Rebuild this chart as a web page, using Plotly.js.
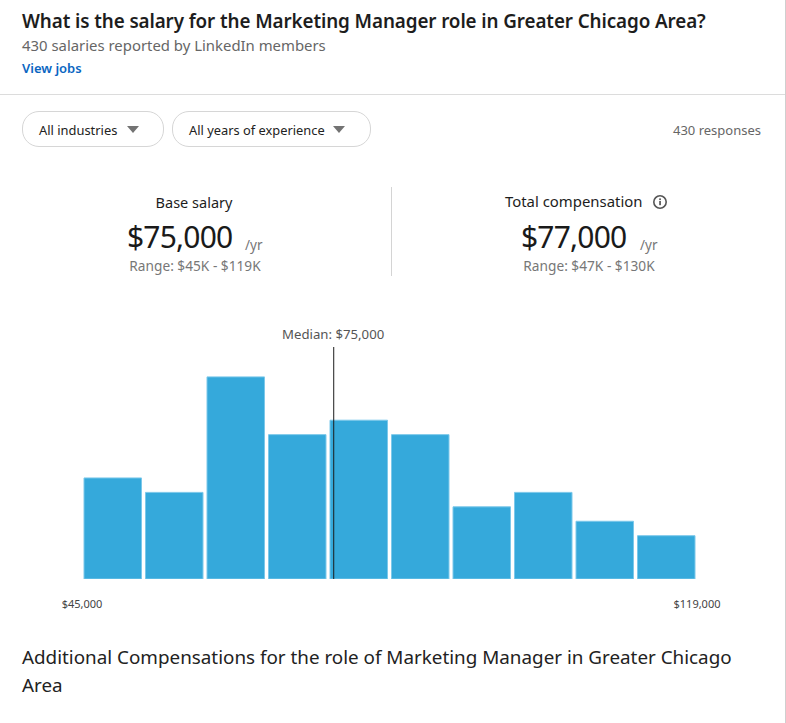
<!DOCTYPE html>
<html>
<head>
<meta charset="utf-8">
<script src="https://cdn.plot.ly/plotly-3.0.1.min.js"></script>
<style>
    html, body { margin: 0; padding: 0; background: #fff; }
    body { width: 786px; height: 723px; position: relative; overflow: hidden; font-family: "Noto Sans", sans-serif; color: #1d1d1d; }
    .t { position: absolute; white-space: nowrap; }
    .c { transform: translateX(-50%); }
    .pill { position: absolute; top: 111px; height: 34px; border: 1px solid #d6d6d6; border-radius: 17px; box-sizing: content-box; }
    .tri { position: absolute; top: 126px; width: 0; height: 0; border-left: 6.5px solid transparent; border-right: 6.5px solid transparent; border-top: 7px solid #737373; }
    #chart { position: absolute; left: 0; top: 320px; width: 786px; height: 300px; }
</style>
</head>
<body>
<div style="position:absolute;left:785px;top:0;width:1px;height:723px;background:#cfcfcf"></div>
<div style="position:absolute;left:0;top:94px;width:785px;height:1px;background:#dcdcdc"></div>
<div style="position:absolute;left:391px;top:187px;width:1px;height:89px;background:#d4d4d4"></div>

<div class="t" style="left:22px;top:8px;font-size:18.83px;font-weight:600;letter-spacing:-.1px">What is the salary for the Marketing Manager role in Greater Chicago Area?</div>
<div class="t" style="left:22px;top:35px;font-size:14.9px;color:#666">430 salaries reported by LinkedIn members</div>
<div class="t" style="left:22px;top:59px;font-size:13px;font-weight:600;color:#0a66c2">View jobs</div>

<div class="pill" style="left:22px;width:140px"></div>
<div class="t" style="left:39px;top:121px;font-size:12.9px;color:#222">All industries</div>
<div class="tri" style="left:127px"></div>
<div class="pill" style="left:172px;width:197px"></div>
<div class="t" style="left:189px;top:121px;font-size:12.85px;color:#222">All years of experience</div>
<div class="tri" style="left:333px"></div>
<div class="t" style="right:25px;top:121px;font-size:13px;color:#666">430 responses</div>

<div class="t c" style="left:194px;top:192px;font-size:14.5px">Base salary</div>
<div class="t" style="left:127px;top:215px;font-size:30px;line-height:44px;letter-spacing:-.8px;color:#1a1a1a">$75,000</div>
<div class="t" style="left:245px;top:235px;font-size:13.5px;color:#777;line-height:20px">/yr</div>
<div class="t c" style="left:195px;top:256px;font-size:13.7px;color:#777">Range: $45K - $119K</div>

<div class="t" style="left:505px;top:191px;font-size:14.9px">Total compensation</div>
<svg style="position:absolute;left:652px;top:194px" width="16" height="16" viewBox="0 0 16 16">
    <circle cx="8" cy="8" r="6.2" fill="none" stroke="#555" stroke-width="1.6"></circle>
    <rect x="7.2" y="7" width="1.7" height="4.2" fill="#555"></rect>
    <rect x="7.2" y="4.4" width="1.7" height="1.7" fill="#555"></rect>
</svg>
<div class="t" style="left:521px;top:215px;font-size:30px;line-height:44px;letter-spacing:-.8px;color:#1a1a1a">$77,000</div>
<div class="t" style="left:640px;top:235px;font-size:13.5px;color:#777;line-height:20px">/yr</div>
<div class="t c" style="left:589px;top:256px;font-size:13.7px;color:#777">Range: $47K - $130K</div>

<div id="chart"></div>

<div class="t" style="left:22px;top:643px;font-size:18.84px;line-height:28px;white-space:normal;width:740px;color:#222">Additional Compensations for the role of Marketing Manager in Greater Chicago Area</div>

<script>
    // histogram, bin centres in dollars
    const binCenters = [48700, 56100, 63500, 70900, 78300, 85700, 93100, 100500, 107900, 115300];
    const binCounts = [7, 6, 14, 10, 11, 10, 5, 6, 4, 3];
    const axisRange = [45000, 119000];
    const tickValues = [45000, 119000];
    const tickLabels = ['$45,000', '$119,000'];
    const medianLabel = 'Median: $75,000';
    const medianX = 75290;

    const trace = {
        x: binCenters,
        y: binCounts,
        type: 'bar',
        marker: { color: '#35a9db', line: { width: 1, color: '#7cc8ea' } },
        hoverinfo: 'skip'
    };

    const layout = {
        width: 786,
        height: 300,
        paper_bgcolor: 'rgba(0,0,0,0)',
        plot_bgcolor: 'rgba(0,0,0,0)',
        font: { family: '"Noto Sans", sans-serif', color: '#444', size: 11 },
        margin: { l: 82.25, r: 88.75, t: 27, b: 41, pad: 0 },
        bargap: 0.065,
        showlegend: false,
        xaxis: {
            range: axisRange,
            tickmode: 'array',
            tickvals: tickValues,
            ticktext: tickLabels,
            ticks: 'outside',
            ticklen: 15,
            tickcolor: 'rgba(0,0,0,0)',
            showgrid: false,
            zeroline: false,
            showline: false,
            tickfont: { size: 11, color: '#444' }
        },
        yaxis: { range: [0, 16.07], visible: false, fixedrange: true },
        shapes: [{
            type: 'line', xref: 'x', yref: 'y',
            x0: medianX, x1: medianX, y0: 0, y1: 16.07,
            line: { color: '#1c1c1c', width: 1 }
        }],
        annotations: [{
            xref: 'x', yref: 'y', x: medianX, y: 16.07,
            text: medianLabel, showarrow: false,
            xanchor: 'center', yanchor: 'bottom', xshift: -1, yshift: 1.5,
            font: { size: 13.2, color: '#555' }
        }]
    };

    Plotly.newPlot('chart', [trace], layout, { displayModeBar: false, staticPlot: true });
</script>
</body>
</html>
